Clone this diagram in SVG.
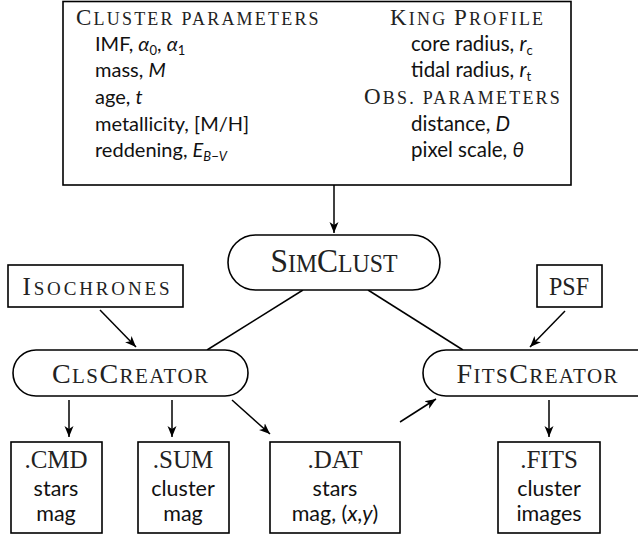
<svg xmlns="http://www.w3.org/2000/svg" width="638" height="536" viewBox="0 0 638 536">
  <defs>
    <marker id="arrow" viewBox="0 0 12 10" refX="11" refY="5" markerWidth="12" markerHeight="10" markerUnits="userSpaceOnUse" orient="auto">
      <path d="M0,0.5 L11,5 L0,9.5 L3,5 z" fill="#000"/>
    </marker>
    <style>
      .box { fill: #fff; stroke: #000; stroke-width: 1.6; }
      .pill { fill: #fff; stroke: #000; stroke-width: 1.6; }
      .edge { fill: none; stroke: #000; stroke-width: 1.5; }
      .arr { marker-end: url(#arrow); }
      .sc { font-family: "Liberation Serif", serif; fill: #222; }
      .hd { font-size: 23px; letter-spacing: 2.2px; }
      .hd .s { font-size: 18px; }
      .nm { font-size: 33px; text-anchor: middle; }
      .nm .s { font-size: 25px; }
      .nm2 { font-size: 28px; text-anchor: middle; }
      .nm2 .s { font-size: 21px; }
      .nm3 { font-size: 25px; text-anchor: middle; }
      .nm3 .s { font-size: 19px; }
      .ext { font-family: "Liberation Serif", serif; font-size: 25px; fill: #222; text-anchor: middle; }
      .sn { font-family: Lato, "Liberation Sans", sans-serif; font-size: 20px; fill: #111; }
      .sn2 { font-family: Lato, "Liberation Sans", sans-serif; font-size: 20.5px; fill: #111; }
      .bd { font-family: Lato, "Liberation Sans", sans-serif; font-size: 21.5px; fill: #111; text-anchor: middle; }
      .it { font-style: italic; }
      .sub { font-size: 13px; }
    </style>
  </defs>

  <!-- parameter panel -->
  <g id="params">
    <rect class="box" x="63" y="1.5" width="508" height="183.5"/>
    <text class="sc hd" x="76" y="25">C<tspan class="s">LUSTER PARAMETERS</tspan></text>
    <text class="sn" x="95" y="51">IMF, <tspan class="it">α</tspan><tspan class="sub" dy="4">0</tspan><tspan dy="-4">, </tspan><tspan class="it">α</tspan><tspan class="sub" dy="4">1</tspan></text>
    <text class="sn" x="95" y="77">mass, <tspan class="it">M</tspan></text>
    <text class="sn" x="95" y="104">age, <tspan class="it">t</tspan></text>
    <text class="sn" x="95" y="131">metallicity, [M/H]</text>
    <text class="sn" x="95" y="157">reddening, <tspan class="it">E</tspan><tspan class="it sub" dy="4">B−V</tspan></text>
    <text class="sc hd" x="390" y="25">K<tspan class="s">ING </tspan>P<tspan class="s">ROFILE</tspan></text>
    <text class="sn2" x="411" y="51">core radius, <tspan class="it">r</tspan><tspan class="sub" dy="4">c</tspan></text>
    <text class="sn2" x="411" y="77">tidal radius, <tspan class="it">r</tspan><tspan class="sub" dy="4">t</tspan></text>
    <text class="sc hd" x="364" y="104">O<tspan class="s">BS. PARAMETERS</tspan></text>
    <text class="sn2" x="411" y="131">distance, <tspan class="it">D</tspan></text>
    <text class="sn2" x="411" y="157">pixel scale, <tspan class="it">θ</tspan></text>
  </g>

  <!-- connectors -->
  <g id="connectors">
    <line class="edge arr" x1="334" y1="185" x2="334" y2="233"/>
    <line class="edge" x1="303" y1="290" x2="207" y2="350"/>
    <line class="edge" x1="368" y1="290" x2="463" y2="350"/>
    <line class="edge arr" x1="100" y1="310" x2="136" y2="347"/>
    <line class="edge arr" x1="565" y1="311" x2="530" y2="347"/>
    <line class="edge arr" x1="69" y1="400" x2="69" y2="437"/>
    <line class="edge arr" x1="172" y1="400" x2="172" y2="437"/>
    <line class="edge arr" x1="232" y1="400" x2="270" y2="434"/>
    <line class="edge arr" x1="400" y1="422" x2="436" y2="399"/>
    <line class="edge arr" x1="549" y1="400" x2="549" y2="437"/>
  </g>

  <g id="simclust">
    <rect class="pill" x="228" y="235" width="212" height="55" rx="27.5"/>
    <text class="sc nm" x="334" y="272" textLength="127" lengthAdjust="spacingAndGlyphs">S<tspan class="s">IM</tspan>C<tspan class="s">LUST</tspan></text>
  </g>

  <g id="isochrones">
    <rect class="box" x="8" y="265" width="175" height="42"/>
    <text class="sc nm3" x="96" y="295" textLength="147" lengthAdjust="spacing">I<tspan class="s">SOCHRONES</tspan></text>
  </g>

  <g id="psf">
    <rect class="box" x="537" y="265" width="65" height="42"/>
    <text class="sc nm3" x="569" y="295" textLength="40" lengthAdjust="spacingAndGlyphs">PSF</text>
  </g>

  <g id="clscreator">
    <rect class="pill" x="13" y="350" width="235" height="46" rx="23"/>
    <text class="sc nm2" x="130" y="383" textLength="156" lengthAdjust="spacing">C<tspan class="s">LS</tspan>C<tspan class="s">REATOR</tspan></text>
  </g>

  <g id="fitscreator">
    <rect class="pill" x="423" y="350" width="240" height="46" rx="23"/>
    <text class="sc nm2" x="537" y="383" textLength="161" lengthAdjust="spacing">F<tspan class="s">ITS</tspan>C<tspan class="s">REATOR</tspan></text>
  </g>

  <g id="cmd">
    <rect class="box" x="11" y="442" width="91" height="91"/>
    <text class="ext" x="56" y="468">.CMD</text>
    <text class="bd" x="56" y="496">stars</text>
    <text class="bd" x="56" y="521">mag</text>
  </g>

  <g id="sum">
    <rect class="box" x="138" y="442" width="91" height="91"/>
    <text class="ext" x="183" y="468">.SUM</text>
    <text class="bd" x="183" y="496">cluster</text>
    <text class="bd" x="183" y="521">mag</text>
  </g>

  <g id="dat">
    <rect class="box" x="270" y="442" width="130" height="91"/>
    <text class="ext" x="335" y="468">.DAT</text>
    <text class="bd" x="335" y="496">stars</text>
    <text class="bd" x="335" y="521">mag, (<tspan class="it">x</tspan>,<tspan class="it">y</tspan>)</text>
  </g>

  <g id="fits">
    <rect class="box" x="498" y="442" width="102" height="91"/>
    <text class="ext" x="549" y="468">.FITS</text>
    <text class="bd" x="549" y="496">cluster</text>
    <text class="bd" x="549" y="521">images</text>
  </g>
</svg>
